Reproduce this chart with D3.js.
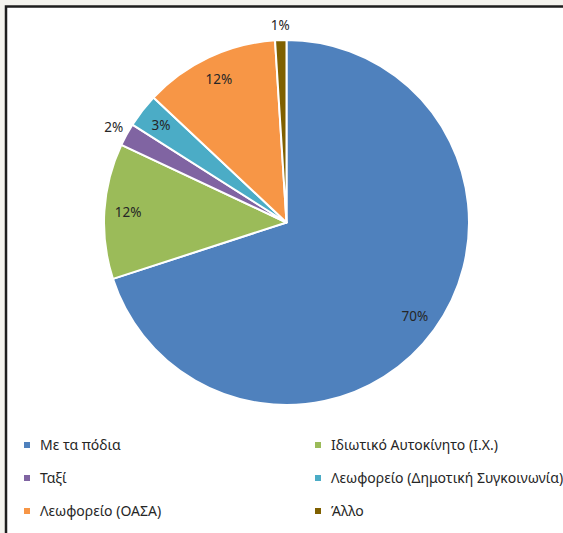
<!DOCTYPE html>
<html>
<head>
<meta charset="utf-8">
<script src="https://cdn.jsdelivr.net/npm/d3@7"></script>
<style>
  html, body { margin: 0; padding: 0; background: #f4f3ee; }
  svg { display: block; }
</style>
</head>
<body>
<svg id="chart" width="563" height="533"></svg>
<script>
// Τρόπος μετακίνησης (%)
const categories = [
  "Με τα πόδια",
  "Ιδιωτικό Αυτοκίνητο (Ι.Χ.)",
  "Ταξί",
  "Λεωφορείο (Δημοτική Συγκοινωνία)",
  "Λεωφορείο (ΟΑΣΑ)",
  "Άλλο"
];
const values = [70, 12, 2, 3, 12, 1];
const colors = ["#4f81bd", "#9bbb59", "#8064a2", "#4bacc6", "#f79646", "#7f6000"];
// slices whose label sits outside the pie
const outsideLabel = [false, false, true, false, false, true];

const W = 563, H = 533;
const svg = d3.select("#chart");
const font = "'Noto Sans', 'DejaVu Sans', sans-serif";

// chart area frame
svg.append("rect").attr("x", 0).attr("y", 0).attr("width", W).attr("height", H).attr("fill", "#f4f3ee");
svg.append("rect").attr("x", 6).attr("y", 6.5).attr("width", W + 10).attr("height", H + 10)
  .attr("fill", "#ffffff").attr("stroke", "#1e1e1e").attr("stroke-width", 2.5);

const cx = 286.5, cy = 222.5, R = 182.5;
const data = categories.map((c, i) => ({ name: c, value: values[i], color: colors[i], outside: outsideLabel[i] }));

const pie = d3.pie().value(d => d.value).sort(null);
const arcs = pie(data);
const arc = d3.arc().innerRadius(0).outerRadius(R);

const g = svg.append("g").attr("transform", `translate(${cx},${cy})`);
g.selectAll("path.slice").data(arcs).join("path")
  .attr("class", "slice")
  .attr("d", arc)
  .attr("fill", d => d.data.color)
  .attr("stroke", "#ffffff")
  .attr("stroke-width", 2)
  .attr("stroke-linejoin", "round");

// percentage labels
const inArc = d3.arc().innerRadius(R * 0.87).outerRadius(R * 0.87);
const outArc = d3.arc().innerRadius(R * 1.08).outerRadius(R * 1.08);
g.selectAll("text.lbl").data(arcs).join("text")
  .attr("class", "lbl")
  .attr("transform", d => `translate(${(d.data.outside ? outArc : inArc).centroid(d)})`)
  .attr("text-anchor", "middle")
  .attr("dy", "0.35em")
  .attr("font-family", font)
  .attr("font-size", 13.5)
  .attr("fill", "#262626")
  .text(d => d3.format(".0f")(d.data.value) + "%");

// legend: two columns, three rows
const legX = [24, 315], legY = [445, 478, 511];
const leg = svg.append("g");
data.forEach((d, i) => {
  const x = legX[i % 2], y = legY[Math.floor(i / 2)];
  leg.append("rect").attr("x", x).attr("y", y - 3).attr("width", 6).attr("height", 6).attr("fill", d.color);
  leg.append("text").attr("x", x + 16).attr("y", y).attr("dy", "0.35em")
    .attr("font-family", font).attr("font-size", 14).attr("fill", "#262626")
    .text(d.name);
});
</script>
</body>
</html>
